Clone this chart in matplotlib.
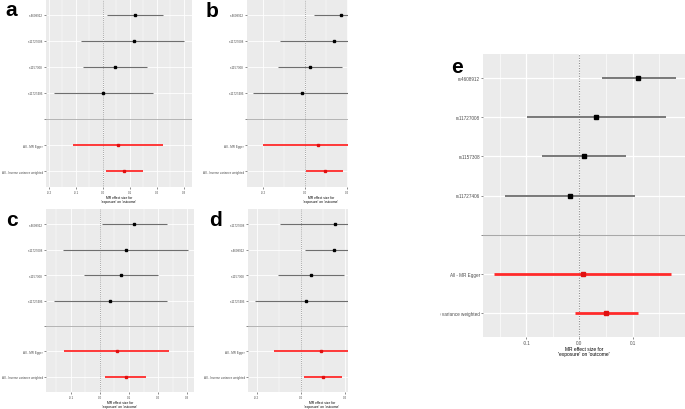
import matplotlib
matplotlib.use("Agg")
import matplotlib.pyplot as plt
from matplotlib.patches import Rectangle

plt.rcParams['font.family'] = ['Liberation Sans', 'DejaVu Sans']

# ---- data (top to bottom: 4 SNPs, then MR Egger, then IVW) ----
methods = ["All - MR Egger", "All - Inverse variance weighted"]

snps_a = ["rs4608912", "rs11727008", "rs1157308", "rs11727406"]
beta_a = [0.118, 0.116, 0.044, 0.000, 0.057, 0.078]
lo_a = [0.015, -0.081, -0.075, -0.181, -0.110, 0.011]
hi_a = [0.222, 0.302, 0.164, 0.184, 0.223, 0.147]

snps_b = ["rs4608912", "rs11727008", "rs1157308", "rs11727406"]
beta_b = [0.171, 0.138, 0.024, -0.016, 0.060, 0.095]
lo_b = [0.043, -0.119, -0.127, -0.246, -0.200, 0.005]
hi_b = [0.300, 0.354, 0.175, 0.220, 0.320, 0.180]

snps_c = ["rs4608912", "rs11727008", "rs1157308", "rs11727406"]
beta_c = [0.118, 0.090, 0.072, 0.034, 0.057, 0.090]
lo_c = [0.006, -0.127, -0.054, -0.159, -0.123, 0.017]
hi_c = [0.232, 0.302, 0.201, 0.232, 0.238, 0.157]

snps_d = ["rs11727008", "rs4608912", "rs1157308", "rs11727406"]
beta_d = [0.154, 0.151, 0.044, 0.023, 0.089, 0.098]
lo_d = [-0.095, 0.018, -0.103, -0.208, -0.121, 0.015]
hi_d = [0.380, 0.280, 0.195, 0.250, 0.300, 0.184]

snps_e = ["rs4608912", "rs11727008", "rs1157308", "rs11727406"]
beta_e = [0.111, 0.0315, 0.009, -0.0175, 0.0057, 0.050]
lo_e = [0.042, -0.099, -0.071, -0.140, -0.162, -0.009]
hi_e = [0.182, 0.163, 0.0875, 0.105, 0.173, 0.111]

W, H = 685, 410
fig = plt.figure(figsize=(W / 100, H / 100), dpi=100)


def px_axes(x0, y0, x1, y1):
    # pixel box (top-left origin) -> axes
    return fig.add_axes([x0 / W, (H - y1) / H, (x1 - x0) / W, (y1 - y0) / H])


def forest(ax, snps, beta, lo, hi, xlim, major, minor, big=False, fs=2.2):
    labels = snps + [""] + methods
    ypos = list(range(7, 0, -1))
    ax.set_facecolor('#EBEBEB')
    for s in ax.spines.values():
        s.set_visible(False)
    ax.set_xlim(*xlim)
    ax.set_ylim(0.4, 7.6)
    ax.set_xticks(major)
    ax.set_xticks(minor, minor=True)
    ax.set_xticklabels([f"{v:.1f}" for v in major])
    ax.set_yticks(ypos)
    ax.set_yticklabels(labels)
    ax.grid(True, which='major', color='white', lw=0.9 if big else 0.6)
    ax.grid(True, which='minor', axis='x', color='white', lw=0.45 if big else 0.3)
    ax.set_axisbelow(True)
    ax.tick_params(axis='both', which='major', length=1.5, width=0.4, color='#333333',
                   labelsize=fs, labelcolor='#4D4D4D', pad=0.8)
    ax.tick_params(which='minor', length=0)
    ax.axhline(3, color='#A8A8A8', lw=0.8 if big else 0.6, zorder=2)
    ax.axvline(0, color='#8A8A8A', lw=0.8 if big else 0.6, ls=(0, (1, 1.3)), zorder=2)

    snp_y = ypos[:4]
    mr_y = ypos[5:]
    glw = 1.3 if big else 0.8
    rlw = 2.0 if big else 1.3
    ms = 3.0 if big else 2.0
    ax.hlines(snp_y, lo[:4], hi[:4], color='#6E6E6E', lw=glw, zorder=3)
    ax.plot(beta[:4], snp_y, 's', color='black', ms=ms, zorder=4)
    ax.hlines(mr_y, lo[4:], hi[4:], color='#FF2A2A', lw=rlw, zorder=3)
    ax.plot(beta[4:], mr_y, 's', color='#E01010', ms=ms, zorder=4)
    ax.set_xlabel("MR effect size for\n'exposure' on 'outcome'", fontsize=fs + 0.2,
                  labelpad=0.8, linespacing=1.0)


ax_a = px_axes(46, 0, 192, 188)
forest(ax_a, snps_a, beta_a, lo_a, hi_a, (-0.211, 0.330),
       [-0.2, -0.1, 0.0, 0.1, 0.2, 0.3], [-0.15, -0.05, 0.05, 0.15, 0.25])

ax_b = px_axes(247, 0, 395, 188)
forest(ax_b, snps_b, beta_b, lo_b, hi_b, (-0.276, 0.429),
       [-0.2, 0.0, 0.2, 0.4], [-0.1, 0.1, 0.3])

ax_c = px_axes(46, 210, 194, 393)
forest(ax_c, snps_c, beta_c, lo_c, hi_c, (-0.186, 0.324),
       [-0.1, 0.0, 0.1, 0.2, 0.3], [-0.15, -0.05, 0.05, 0.15, 0.25])

ax_d = px_axes(248, 210, 396, 393)
forest(ax_d, snps_d, beta_d, lo_d, hi_d, (-0.240, 0.430),
       [-0.2, 0.0, 0.2, 0.4], [-0.1, 0.1, 0.3])

ax_e = px_axes(483, 55, 685, 338)
forest(ax_e, snps_e, beta_e, lo_e, hi_e, (-0.182, 0.199),
       [-0.1, 0.0, 0.1], [-0.15, -0.05, 0.05, 0.15], big=True, fs=3.3)

# the composite was cropped between the middle column and panel e
fig.add_artist(Rectangle((348 / W, 0), (440 - 348) / W, 1, transform=fig.transFigure,
                         facecolor='white', edgecolor='none', zorder=10))

# panel letters
for letter, x, y in [("a", 5, 16), ("b", 206, 17), ("c", 6, 226), ("d", 209, 226), ("e", 451, 73)]:
    fig.text(x / W, (H - y) / H, letter, fontsize=15, fontweight='bold',
             ha='left', va='baseline', zorder=11)

fig.savefig("out.png", dpi=100, facecolor='white')
